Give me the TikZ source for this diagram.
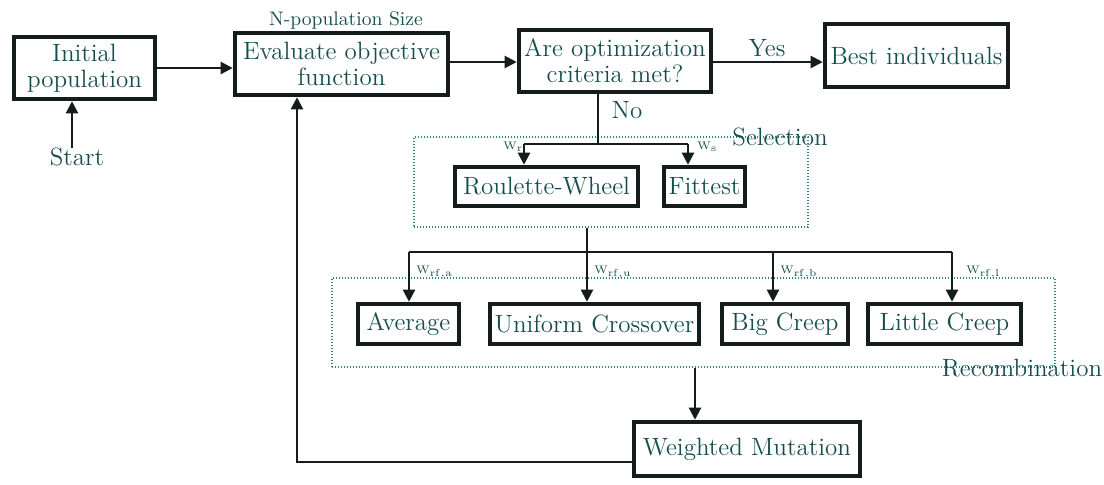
\documentclass[tikz,border=0pt]{standalone}
\usetikzlibrary{arrows.meta,calc}
\definecolor{txtc}{RGB}{22,78,78}
\definecolor{linec}{RGB}{20,28,28}
\definecolor{dotc}{RGB}{45,130,130}
\begin{document}
\begin{tikzpicture}[x=0.5pt,y=-0.5pt,
  every node/.style={text=txtc},
  box/.style={draw=linec,line width=2.3pt,fill=white,inner sep=0pt,align=center,
    font=\fontsize{12.5}{13}\selectfont},
  grp/.style={draw=dotc,line width=1pt,dash pattern=on 0.7pt off 0.8pt,inner sep=0pt},
  conn/.style={draw=linec,line width=1.1pt},
  arr/.style={conn,-{Triangle[length=6pt,width=6pt]}},
  lbl/.style={font=\fontsize{12.5}{13}\selectfont,inner sep=0pt},
  small/.style={font=\fontsize{9.8}{10}\selectfont,inner sep=0pt},
  wlbl/.style={font=\fontsize{5.5}{5.5}\selectfont,inner sep=0pt,anchor=west}]
\useasboundingbox (0,0) rectangle (1104,484);
% group boxes
\node[grp,minimum width=197pt,minimum height=45pt] (selbox) at (611,182) {};
\node[grp,minimum width=361.5pt,minimum height=44.5pt] (recbox) at (693.5,322.5) {};
% main boxes
\node[box,minimum width=70.5pt,minimum height=31pt] (init) at (84.5,68) {Initial\\population};
\node[box,minimum width=106.5pt,minimum height=31pt] (eval) at (341.5,64) {Evaluate objective\\function};
\node[box,minimum width=96pt,minimum height=31pt] (crit) at (615,61) {Are optimization\\criteria met?};
\node[box,minimum width=91.5pt,minimum height=31.5pt] (best) at (916.5,55.5) {Best individuals};
\node[box,minimum width=91.5pt,minimum height=19.5pt] (roul) at (546.5,186.5) {Roulette-Wheel};
\node[box,minimum width=40.5pt,minimum height=19.5pt] (fit) at (704.5,186.5) {Fittest};
\node[box,minimum width=50.5pt,minimum height=20pt] (avg) at (408.5,324) {Average};
\node[box,minimum width=104.5pt,minimum height=20pt] (uni) at (594.5,324) {Uniform Crossover};
\node[box,minimum width=63pt,minimum height=20pt] (big) at (785,324) {Big Creep};
\node[box,minimum width=76.5pt,minimum height=20pt] (lit) at (944.5,324) {Little Creep};
\node[box,minimum width=113pt,minimum height=27pt] (wm) at (747,449) {Weighted Mutation};
% text labels
\node[lbl] (start) at (77,157) {Start};
\node[small] (npop) at (346,20) {N-population Size};
\node[lbl] (yes) at (767,48) {Yes};
\node[lbl] (no) at (627,110) {No};
\node[lbl] (sel) at (780,137) {Selection};
\node[lbl] (rec) at (1022,368) {Recombination};
% connectors
\draw[arr] (init.east |- 0,68) -- (eval.west |- 0,68);
\draw[arr] (eval.east |- 0,62) -- (crit.west |- 0,62);
\draw[arr] (crit.east |- 0,62) -- (best.west |- 0,62);
\draw[arr] (start.north -| 72,0) -- (init.south -| 72,0);
% selection branch
\coordinate (b1) at (598,144);
\coordinate (b1L) at (524,144);
\coordinate (b1R) at (688,144);
\draw[conn] (crit.south -| b1) -- (b1);
\draw[conn] (b1L) -- (b1R);
\draw[arr] (b1L) -- (b1L |- roul.north);
\draw[arr] (b1R) -- (b1R |- fit.north);
\node[wlbl] (wr) at (503,147) {W$_{\mathrm{r}}$};
\node[wlbl] (ws) at (697,147) {W$_{\mathrm{s}}$};
% recombination branch
\coordinate (b2) at (587,252);
\coordinate (b2L) at (409,252);
\coordinate (b2B) at (773,252);
\coordinate (b2R) at (952,252);
\draw[conn] (selbox.south -| b2) -- (b2);
\draw[conn] (b2L) -- (b2R);
\draw[arr] (b2L) -- (b2L |- avg.north);
\draw[arr] (b2) -- (b2 |- uni.north);
\draw[arr] (b2B) -- (b2B |- big.north);
\draw[arr] (b2R) -- (b2R |- lit.north);
\node[wlbl] (wa) at (416,272) {W$_{\mathrm{rf,a}}$};
\node[wlbl] (wu) at (594,272) {W$_{\mathrm{rf,u}}$};
\node[wlbl] (wb) at (780,272) {W$_{\mathrm{rf,b}}$};
\node[wlbl] (wl) at (966,272) {W$_{\mathrm{rf,l}}$};
% mutation
\coordinate (m1) at (695,367);
\draw[arr] (recbox.south -| m1) -- (m1 |- wm.north);
\coordinate (fb) at (297,462);
\draw[arr] (wm.west |- fb) -| (eval.south -| fb);
\end{tikzpicture}
\end{document}
